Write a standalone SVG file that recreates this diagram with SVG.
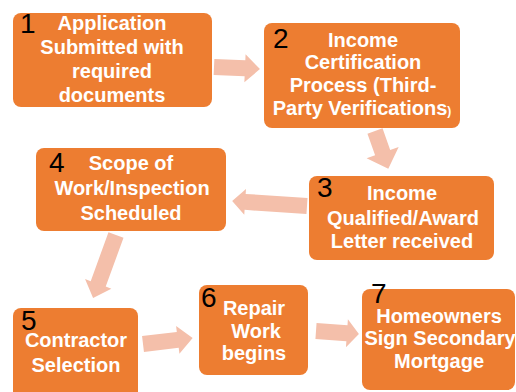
<svg xmlns="http://www.w3.org/2000/svg" width="516" height="392" viewBox="0 0 516 392">
<style>
.box{fill:#ED7D31;}
.arr{fill:#F4BFAA;}
.t{font-family:"Liberation Sans",Arial,sans-serif;font-weight:bold;font-size:20px;fill:#FFFFFF;text-anchor:middle;}
.n{font-family:"Liberation Sans",Arial,sans-serif;font-size:28px;fill:#000000;}
</style>
<rect width="516" height="392" fill="#FFFFFF"/>
<g id="connectors">
<polygon class="arr" transform="translate(214,67) rotate(2.5)" points="0,-8 31,-8 31,-14 46,0 31,14 31,8 0,8"/>
<polygon class="arr" transform="translate(375,131) rotate(70.6)" points="0,-8 23,-8 23,-17 40,0 23,17 23,8 0,8"/>
<polygon class="arr" transform="translate(307,206) rotate(183.8)" points="0,-8 62,-8 62,-13 75,0 62,13 62,8 0,8"/>
<polygon class="arr" transform="translate(116,235) rotate(110)" points="0,-8 52,-8 52,-14 67,0 52,14 52,8 0,8"/>
<polygon class="arr" transform="translate(143,344) rotate(-6.8)" points="0,-8 35,-8 35,-14 50,0 35,14 35,8 0,8"/>
<polygon class="arr" transform="translate(316,331) rotate(4)" points="0,-8 31,-8 31,-14 43,0 31,14 31,8 0,8"/>
</g>
<g id="node1">
<rect class="box" x="13" y="13" width="199" height="94" rx="8"/>
<text class="t" x="112" y="30">Application</text>
<text class="t" x="112" y="54">Submitted with</text>
<text class="t" x="112" y="78">required</text>
<text class="t" x="112" y="102">documents</text>
<text class="n" x="20" y="33">1</text>
</g>
<g id="node2">
<rect class="box" x="264" y="23" width="196" height="105" rx="8"/>
<text class="t" x="363" y="47">Income</text>
<text class="t" x="363" y="69">Certification</text>
<text class="t" x="363" y="92">Process (Third-</text>
<text class="t" x="362" y="115">Party Verifications<tspan font-size="12">)</tspan></text>
<text class="n" x="273" y="48">2</text>
</g>
<g id="node3">
<rect class="box" x="309" y="176" width="185" height="84" rx="8"/>
<text class="t" x="402" y="200">Income</text>
<text class="t" x="403" y="225">Qualified/Award</text>
<text class="t" x="402" y="248">Letter received</text>
<text class="n" x="317" y="197">3</text>
</g>
<g id="node4">
<rect class="box" x="36" y="148" width="190" height="83" rx="8"/>
<text class="t" x="131" y="170">Scope of</text>
<text class="t" x="132" y="195">Work/Inspection</text>
<text class="t" x="131" y="220">Scheduled</text>
<text class="n" x="49" y="172">4</text>
</g>
<g id="node5">
<rect class="box" x="13" y="308" width="125" height="96" rx="8"/>
<text class="t" x="76" y="347">Contractor</text>
<text class="t" x="76" y="372">Selection</text>
<text class="n" x="21" y="330">5</text>
</g>
<g id="node6">
<rect class="box" x="199" y="285" width="109" height="90" rx="8"/>
<text class="t" x="254" y="315">Repair</text>
<text class="t" x="256" y="338">Work</text>
<text class="t" x="254" y="360">begins</text>
<text class="n" x="201" y="307">6</text>
</g>
<g id="node7">
<rect class="box" x="362" y="289" width="153" height="101" rx="8"/>
<text class="t" x="439" y="323">Homeowners</text>
<text class="t" x="440" y="345">Sign Secondary</text>
<text class="t" x="439" y="368">Mortgage</text>
<text class="n" x="371" y="303">7</text>
</g>
</svg>
